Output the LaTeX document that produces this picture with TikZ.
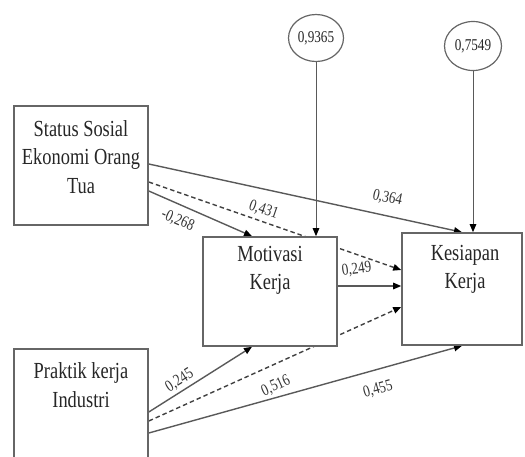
\documentclass[tikz,border=0pt]{standalone}
\usepackage{fontspec}
\setmainfont[FakeStretch=0.8]{Liberation Serif}
\usetikzlibrary{arrows.meta,shapes.geometric,backgrounds}

\tikzset{
    kotak/.style={draw=black!60,line width=1.6pt,fill=white,inner sep=0pt},
    isi/.style={align=center,font=\fontsize{23}{28.5}\selectfont,text=black!85},
    galat/.style={ellipse,draw=black!60,line width=1.2pt,fill=white,inner sep=0pt,
        minimum width=55pt,minimum height=47pt,font=\fontsize{16.5}{18}\selectfont,text=black!85},
    panah/.style={-{Triangle[length=8pt,width=6.5pt,color=black]},line width=1.4pt,draw=black!65},
    putus/.style={panah,dash pattern=on 4.5pt off 3pt,draw=black!75},
    nilai/.style={font=\fontsize{16.5}{18}\selectfont,inner sep=1pt,text=black!80}
}

\begin{document}
\begin{tikzpicture}[x=1pt,y=-1pt]
\useasboundingbox (0,0) rectangle (525,456);
\clip (0,0) rectangle (525,456);
\node[kotak,minimum width=134pt,minimum height=119pt] (ses) at (81,165.5) {};
\node[isi] (sestxt) at (81,157) {Status Sosial\\Ekonomi Orang\\Tua};
\node[kotak,minimum width=134pt,minimum height=121pt] (pkl) at (81,409.5) {};
\node[isi] (pkltxt) at (81,385) {Praktik kerja\\Industri};
\node[kotak,minimum width=134pt,minimum height=109pt] (mot) at (270,291.5) {};
\node[isi] (mottxt) at (270,270.5) {Motivasi\\Kerja};
\node[kotak,minimum width=120pt,minimum height=112pt] (kes) at (462,289) {};
\node[isi] (kestxt) at (465,269.5) {Kesiapan\\Kerja};
\node[galat] (e1) at (316,38) {0,9365};
\node[galat,minimum width=57pt,minimum height=49pt] (e2) at (473,46) {0,7549};

\begin{scope}[on background layer]
\draw[panah,line width=1pt] (e1.south) -- (e1.south |- mot.north);
\draw[panah,line width=1pt] (e2.south) -- (e2.south |- kes.north);
\draw[panah] ([yshift=1.5pt]ses.east) -- (kes.north) node[nilai,sloped,pos=.75,above=9pt] (l1) {0,364};
\draw[panah] ([yshift=-25.5pt]ses.east) -- ([xshift=-18pt]mot.north) node[nilai,sloped,pos=.34,below=7pt] (l2) {-0,268};
\draw[putus] ([yshift=-16.5pt]ses.east) -- ([yshift=19pt]kes.west)
    node[nilai,sloped,pos=.44,above=3pt] (l3) {0,431}
    node[nilai,rotate=8,pos=.815,below=7.5pt] (l4) {0,249};
\draw[panah] ([yshift=5.5pt]mot.east) -- ([yshift=5.5pt]mot.east -| kes.west);
\draw[panah] ([yshift=-2.5pt]pkl.east) -- ([xshift=-18pt]mot.south) node[nilai,sloped,pos=.35,above=1.5pt] (l5) {0,245};
\draw[putus] ([yshift=-11.5pt]pkl.east) -- ([yshift=-18pt]kes.west) node[nilai,sloped,pos=.47,below=12pt] (l6) {0,516};
\draw[panah] ([yshift=-23.5pt]pkl.east) -- (kes.south) node[nilai,sloped,pos=.715,below=11pt] (l7) {0,455};
\end{scope}
\end{tikzpicture}
\end{document}
